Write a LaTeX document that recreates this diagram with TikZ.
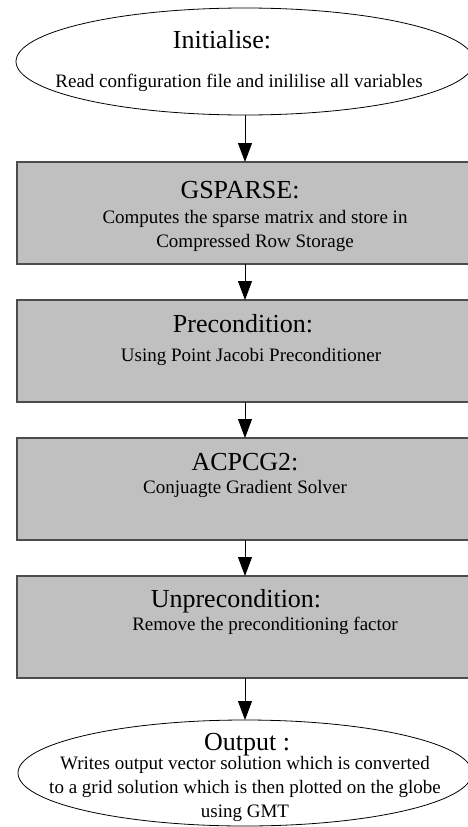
\documentclass[tikz,border=0pt]{standalone}
\usepackage{fontspec}
\setmainfont{Liberation Serif}
\usepackage{tikz}
\usetikzlibrary{shapes.geometric, arrows.meta, positioning, calc}
\definecolor{procgray}{HTML}{C0C0C0}
\tikzstyle{terminal} = [ellipse, draw=black, line width=0.8pt, minimum width=458pt, minimum height=107pt, inner sep=0pt, outer sep=0pt]
\tikzstyle{process} = [rectangle, draw=black!70, line width=1.2pt, fill=procgray, minimum width=456pt, minimum height=102pt, inner sep=0pt, outer sep=0pt]
\tikzstyle{heading} = [font=\fontsize{26}{30}\selectfont, inner sep=0pt, anchor=base]
\tikzstyle{body} = [font=\fontsize{19}{24}\selectfont, align=center, inner sep=0pt, anchor=base]
\tikzstyle{arrow} = [line width=0.8pt, -{Triangle[length=19pt, width=14pt]}]

\begin{document}
\begin{tikzpicture}[node distance=36pt]
    \useasboundingbox (0,0) rectangle (468pt,-827pt);

    % Start
    \node (init) [terminal] at (245pt,-61.5pt) {};
    \node (initT) [heading] at ($(init.north)+(-23pt,-40pt)$) {Initialise:};
    \node (initB) [body] at ($(init.north)+(-6pt,-79pt)$) {Read configuration file and inililise all variables};

    % Sparse matrix (base = last line)
    \node (gsparse) [process, below=47pt of init] {};
    \node (gsparseT) [heading] at ($(gsparse.north)+(-5pt,-36pt)$) {GSPARSE:};
    \node (gsparseB) [body] at ($(gsparse.north)+(10pt,-85pt)$) {Computes the sparse matrix and store in\\Compressed Row Storage};

    % Preconditioner
    \node (precond) [process, below=of gsparse] {};
    \node (precondT) [heading] at ($(precond.north)+(-2pt,-32pt)$) {Precondition:};
    \node (precondB) [body] at ($(precond.north)+(6pt,-61pt)$) {Using Point Jacobi Preconditioner};

    % Solver
    \node (solver) [process, below=of precond] {};
    \node (solverT) [heading] at ($(solver.north)+(0pt,-32pt)$) {ACPCG2:};
    \node (solverB) [body] at ($(solver.north)+(0pt,-55pt)$) {Conjuagte Gradient Solver};

    % Undo preconditioner
    \node (unprecond) [process, below=of solver] {};
    \node (unprecondT) [heading] at ($(unprecond.north)+(-9pt,-31pt)$) {Unprecondition:};
    \node (unprecondB) [body] at ($(unprecond.north)+(20pt,-54pt)$) {Remove the preconditioning factor};

    % End (base = last line)
    \node (output) [terminal, minimum width=454pt, minimum height=106pt, below=42pt of unprecond] {};
    \node (outputT) [heading] at ($(output.north)+(2pt,-30pt)$) {Output :};
    \node (outputB) [body] at ($(output.north)+(0pt,-97pt)$) {Writes output vector solution which is converted\\to a grid solution which is then plotted on the globe\\using GMT};

    % Arrows
    \draw [arrow] (init) -- (gsparse);
    \draw [arrow] (gsparse) -- (precond);
    \draw [arrow] (precond) -- (solver);
    \draw [arrow] (solver) -- (unprecond);
    \draw [arrow] (unprecond) -- (output);
\end{tikzpicture}
\end{document}
